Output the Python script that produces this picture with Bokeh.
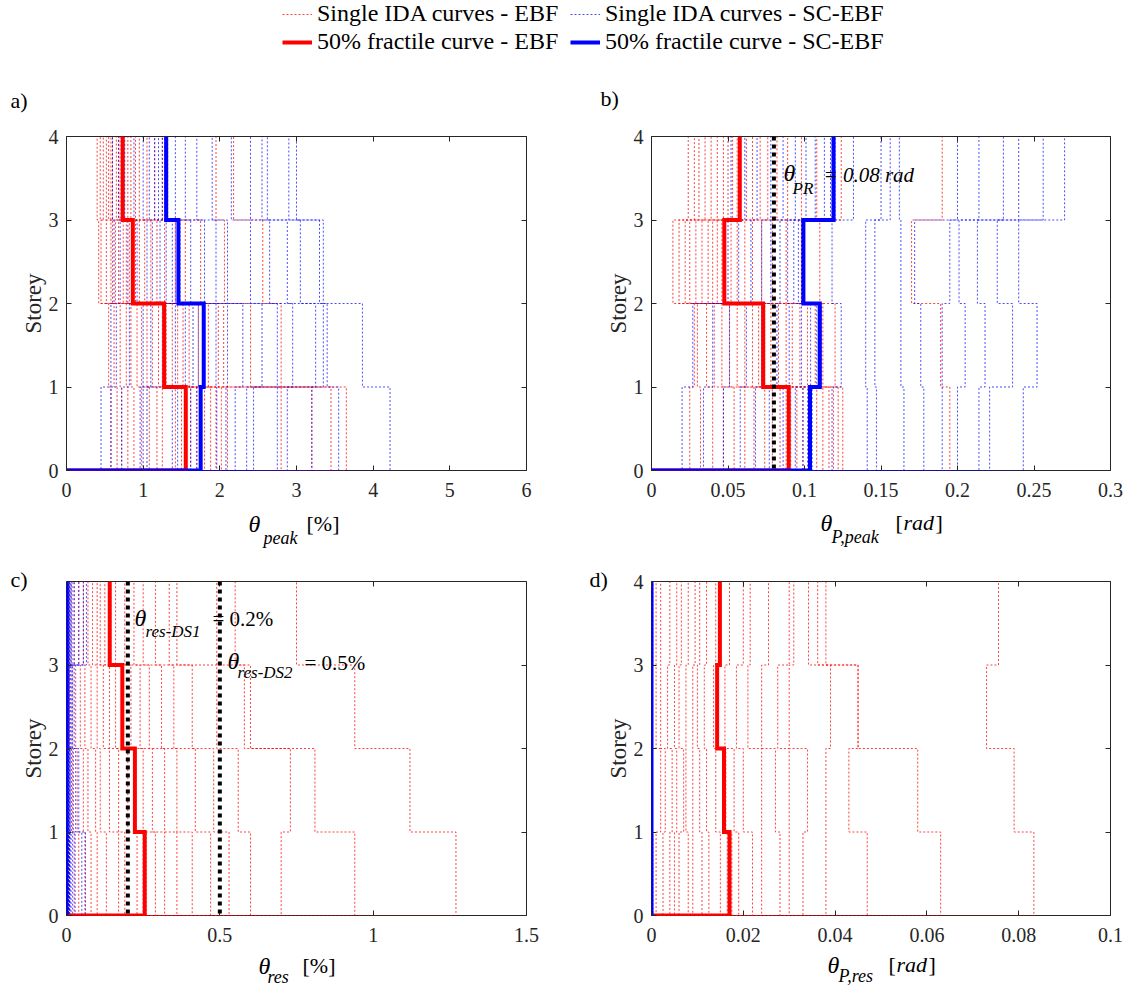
from bokeh.plotting import figure
from bokeh.layouts import column, row
from bokeh.models import (Range1d, FixedTicker, LinearAxis, Label, Span, Legend,
                          LegendItem, CustomJSTickFormatter, Title)
from bokeh.embed import file_html
from bokeh.resources import INLINE

# ---------------- data ----------------
STOREYS = [0, 1, 2, 3, 4]

# panel a: peak interstorey drift [%], one row per record: storey 1..4
A_EBF = [
    [0.58, 0.55, 0.42, 0.40], [0.66, 0.62, 0.45, 0.48], [0.72, 0.70, 0.52, 0.44],
    [0.80, 0.78, 0.58, 0.55], [0.88, 0.84, 0.64, 0.52], [0.98, 0.92, 0.60, 0.60],
    [1.08, 0.98, 0.68, 0.58], [1.18, 1.05, 0.74, 0.65], [1.25, 1.12, 0.78, 0.68],
    [1.42, 1.20, 0.82, 0.70], [1.50, 1.26, 0.85, 0.72], [1.62, 1.30, 0.90, 0.75],
    [1.70, 1.38, 0.95, 0.80], [1.80, 1.45, 1.02, 0.84], [1.88, 1.52, 1.10, 0.90],
    [1.95, 1.60, 1.18, 0.95], [2.02, 1.72, 1.28, 1.05], [2.10, 1.85, 1.42, 1.15],
    [2.80, 1.98, 1.55, 1.25], [3.20, 2.05, 1.75, 1.30], [3.45, 2.40, 2.06, 1.95],
    [3.65, 2.80, 2.56, 2.18],
]
A_SCEBF = [
    [0.45, 0.58, 0.62, 0.60], [0.58, 0.65, 0.70, 0.68], [0.72, 0.82, 0.80, 0.76],
    [0.96, 1.00, 0.92, 0.88], [1.00, 1.10, 1.05, 1.00], [1.05, 1.25, 1.12, 1.08],
    [1.38, 1.42, 1.22, 1.15], [1.45, 1.55, 1.30, 1.20], [1.62, 1.65, 1.38, 1.25],
    [1.70, 1.72, 1.42, 1.28], [1.74, 1.78, 1.45, 1.29], [1.76, 1.80, 1.48, 1.32],
    [1.96, 1.95, 1.62, 1.42], [2.08, 2.10, 1.80, 1.55], [2.20, 2.30, 1.95, 1.70],
    [2.35, 2.55, 2.10, 1.90], [2.44, 2.75, 2.40, 2.15], [2.75, 2.95, 2.65, 2.40],
    [2.88, 3.25, 2.88, 2.55], [3.20, 3.35, 3.05, 2.62], [3.55, 3.40, 3.30, 2.90],
    [4.22, 3.86, 3.35, 3.00],
]
A_EBF_50 = [1.556, 1.274, 0.865, 0.733]
A_SCEBF_50 = [1.750, 1.790, 1.460, 1.300]

# panel b: peak plastic rotation [rad]
B_EBF = [
    [0.025, 0.028, 0.014, 0.024], [0.032, 0.030, 0.018, 0.028], [0.040, 0.036, 0.022, 0.031],
    [0.047, 0.041, 0.025, 0.035], [0.054, 0.046, 0.029, 0.039], [0.061, 0.051, 0.033, 0.043],
    [0.067, 0.056, 0.037, 0.047], [0.074, 0.061, 0.040, 0.050], [0.079, 0.066, 0.043, 0.053],
    [0.084, 0.070, 0.046, 0.056], [0.088, 0.072, 0.047, 0.057], [0.091, 0.074, 0.048, 0.058],
    [0.095, 0.078, 0.052, 0.062], [0.099, 0.083, 0.056, 0.066], [0.104, 0.088, 0.061, 0.071],
    [0.108, 0.092, 0.066, 0.076], [0.112, 0.097, 0.072, 0.082], [0.116, 0.102, 0.079, 0.089],
    [0.119, 0.107, 0.088, 0.098], [0.122, 0.112, 0.098, 0.108], [0.125, 0.120, 0.110, 0.124],
    [0.195, 0.189, 0.170, 0.190],
]
B_SCEBF = [
    [0.020, 0.027, 0.050, 0.052], [0.034, 0.040, 0.057, 0.061], [0.047, 0.051, 0.065, 0.069],
    [0.058, 0.062, 0.072, 0.078], [0.068, 0.072, 0.078, 0.086], [0.077, 0.082, 0.084, 0.094],
    [0.086, 0.090, 0.089, 0.101], [0.094, 0.098, 0.093, 0.107], [0.099, 0.104, 0.096, 0.113],
    [0.102, 0.108, 0.098, 0.117], [0.103, 0.109, 0.099, 0.118], [0.105, 0.111, 0.100, 0.120],
    [0.118, 0.124, 0.118, 0.132], [0.141, 0.140, 0.140, 0.150], [0.147, 0.146, 0.146, 0.156],
    [0.165, 0.163, 0.163, 0.162], [0.178, 0.176, 0.172, 0.200], [0.190, 0.190, 0.195, 0.214],
    [0.200, 0.205, 0.201, 0.230], [0.214, 0.218, 0.213, 0.240], [0.221, 0.236, 0.226, 0.256],
    [0.243, 0.252, 0.240, 0.270],
]
B_EBF_50 = [0.0897, 0.0730, 0.0476, 0.0577]
B_SCEBF_50 = [0.1036, 0.1100, 0.0993, 0.1190]
B_THETA_PR = 0.08

# panel c: residual interstorey drift [%]
C_EBF = [
    [0.010, 0.012, 0.010, 0.008], [0.025, 0.020, 0.018, 0.015], [0.040, 0.035, 0.030, 0.025],
    [0.060, 0.055, 0.045, 0.040], [0.080, 0.070, 0.060, 0.055], [0.100, 0.095, 0.080, 0.070],
    [0.130, 0.110, 0.100, 0.085], [0.170, 0.140, 0.120, 0.100], [0.190, 0.170, 0.140, 0.110],
    [0.230, 0.200, 0.160, 0.125], [0.250, 0.220, 0.180, 0.138], [0.260, 0.226, 0.184, 0.144],
    [0.290, 0.250, 0.210, 0.160], [0.320, 0.280, 0.240, 0.190], [0.360, 0.320, 0.270, 0.220],
    [0.410, 0.360, 0.310, 0.250], [0.470, 0.420, 0.350, 0.290], [0.530, 0.480, 0.410, 0.335],
    [0.600, 0.560, 0.490, 0.360], [0.700, 0.730, 0.580, 0.490], [0.940, 0.810, 0.600, 0.550],
    [1.270, 1.120, 0.940, 0.750],
]
C_SCEBF = [
    [0.000, 0.001, 0.000, 0.001], [0.001, 0.001, 0.001, 0.002], [0.002, 0.002, 0.001, 0.002],
    [0.002, 0.001, 0.002, 0.003], [0.003, 0.002, 0.002, 0.003], [0.003, 0.003, 0.002, 0.004],
    [0.004, 0.003, 0.003, 0.004], [0.004, 0.004, 0.003, 0.005], [0.005, 0.004, 0.004, 0.005],
    [0.005, 0.005, 0.004, 0.006], [0.006, 0.005, 0.004, 0.006], [0.006, 0.006, 0.005, 0.007],
    [0.007, 0.006, 0.005, 0.008], [0.008, 0.007, 0.006, 0.009], [0.009, 0.008, 0.006, 0.010],
    [0.010, 0.009, 0.007, 0.012], [0.012, 0.010, 0.008, 0.015], [0.015, 0.012, 0.010, 0.018],
    [0.020, 0.016, 0.012, 0.025], [0.028, 0.022, 0.015, 0.040], [0.050, 0.030, 0.020, 0.055],
    [0.062, 0.040, 0.025, 0.065],
]
C_EBF_50 = [0.255, 0.223, 0.182, 0.141]
C_SCEBF_50 = [0.0, 0.0, 0.0, 0.0]
C_DS_LIMITS = [0.2, 0.5]

# panel d: residual plastic rotation [rad]
D_EBF = [
    [0.0010, 0.0020, 0.0010, 0.0010], [0.0025, 0.0030, 0.0020, 0.0020], [0.0040, 0.0045, 0.0035, 0.0040],
    [0.0050, 0.0055, 0.0050, 0.0055], [0.0060, 0.0070, 0.0060, 0.0065], [0.0080, 0.0075, 0.0075, 0.0080],
    [0.0090, 0.0090, 0.0090, 0.0095], [0.0110, 0.0105, 0.0100, 0.0105], [0.0125, 0.0120, 0.0115, 0.0120],
    [0.0150, 0.0140, 0.0135, 0.0140], [0.0165, 0.0155, 0.0142, 0.0148], [0.0175, 0.0162, 0.0145, 0.0150],
    [0.0190, 0.0180, 0.0160, 0.0170], [0.0220, 0.0200, 0.0185, 0.0200], [0.0240, 0.0240, 0.0210, 0.0215],
    [0.0280, 0.0270, 0.0240, 0.0255], [0.0300, 0.0300, 0.0275, 0.0300], [0.0330, 0.0340, 0.0300, 0.0310],
    [0.0380, 0.0380, 0.0390, 0.0342], [0.0470, 0.0430, 0.0450, 0.0362], [0.0630, 0.0580, 0.0450, 0.0380],
    [0.0833, 0.0790, 0.0730, 0.0756],
]
D_SCEBF = [
    [0.0000, 0.0001, 0.0000, 0.0001], [0.0001, 0.0001, 0.0000, 0.0001], [0.0001, 0.0000, 0.0001, 0.0002],
    [0.0002, 0.0001, 0.0001, 0.0001], [0.0002, 0.0002, 0.0001, 0.0002], [0.0003, 0.0002, 0.0002, 0.0003],
]
D_EBF_50 = [0.0170, 0.0158, 0.0143, 0.0149]
D_SCEBF_50 = [0.0, 0.0, 0.0, 0.0]

# ticks
A_XTICKS = [0, 1, 2, 3, 4, 5, 6]
A_XLABELS = ["0", "1", "2", "3", "4", "5", "6"]
B_XTICKS = [0, 0.05, 0.1, 0.15, 0.2, 0.25, 0.3]
B_XLABELS = ["0", "0.05", "0.1", "0.15", "0.2", "0.25", "0.3"]
C_XTICKS = [0, 0.5, 1, 1.5]
C_XLABELS = ["0", "0.5", "1", "1.5"]
D_XTICKS = [0, 0.02, 0.04, 0.06, 0.08, 0.1]
D_XLABELS = ["0", "0.02", "0.04", "0.06", "0.08", "0.1"]
Y_TICKS = [0, 1, 2, 3, 4]
Y_TICKS_C = [0, 1, 2, 3]

LEGEND_LABELS = ["Single IDA curves - EBF", "Single IDA curves - SC-EBF",
                 "50% fractile curve - EBF", "50% fractile curve - SC-EBF"]

# ---------------- style ----------------
FONT = "Liberation Serif"
AXC = "#262626"
RED = "#ff0000"
BLUE = "#0000ff"
DOT = "2 2"
RED_A = 0.75
BLUE_A = 0.7
W = 1130


def step_path(vals):
    xs, ys = [0.0], [STOREYS[0]]
    for i, v in enumerate(vals):
        xs += [v, v]
        ys += [STOREYS[i], STOREYS[i + 1]]
    return xs, ys


def labeller(ticks, labels):
    return CustomJSTickFormatter(args=dict(tvals=ticks, tlabs=labels),
                                 code="const i = tvals.indexOf(tick); return i >= 0 ? tlabs[i] : '';")


def style_axis(ax, ticks, labels, standoff):
    ax.ticker = FixedTicker(ticks=ticks)
    ax.formatter = labeller(ticks, labels)
    ax.major_tick_in = 5
    ax.major_tick_out = 0
    ax.minor_tick_in = 0
    ax.minor_tick_out = 0
    ax.major_tick_line_color = AXC
    ax.axis_line_color = None
    ax.major_label_text_font = FONT
    ax.major_label_text_font_size = "20px"
    ax.major_label_text_color = AXC
    ax.major_label_standoff = standoff


def mirror_axis(ticks):
    return LinearAxis(ticker=FixedTicker(ticks=ticks),
                      formatter=CustomJSTickFormatter(code="return '';"),
                      major_label_text_font_size="0px", major_label_standoff=0,
                      major_tick_in=5, major_tick_out=0, minor_tick_in=0, minor_tick_out=0,
                      axis_line_color=None, major_tick_line_color=AXC)


def panel(width, height, ml, mr, mt, mb, xmax, xticks, xlabels, yticks):
    p = figure(width=width, height=height, x_range=Range1d(0, xmax), y_range=Range1d(0, 4),
               output_backend="svg", toolbar_location=None,
               min_border_left=ml, min_border_right=mr, min_border_top=mt, min_border_bottom=mb)
    p.xgrid.visible = False
    p.ygrid.visible = False
    p.outline_line_color = AXC
    p.outline_line_width = 1
    p.outline_line_alpha = 1
    style_axis(p.below[0], xticks, xlabels, 12)
    style_axis(p.left[0], yticks, [str(t) for t in yticks], 8)
    p.left[0].axis_label = "Storey"
    p.left[0].axis_label_text_font = FONT
    p.left[0].axis_label_text_font_size = "23px"
    p.left[0].axis_label_text_font_style = "normal"
    p.left[0].axis_label_text_color = AXC
    p.left[0].axis_label_standoff = 0
    p.add_layout(mirror_axis(xticks), "above")
    p.add_layout(mirror_axis(yticks), "right")
    return p


def draw(p, ebf, scebf, ebf50, scebf50):
    for recs, col, alpha in ((ebf, RED, RED_A), (scebf, BLUE, BLUE_A)):
        paths = [step_path(r) for r in recs]
        p.multi_line(xs=[a for a, b in paths], ys=[b for a, b in paths],
                     line_color=col, line_alpha=alpha, line_width=1, line_dash=DOT)
    for vals, col in ((ebf50, RED), (scebf50, BLUE)):
        xs, ys = step_path(vals)
        p.line(xs, ys, line_color=col, line_width=4, line_join="miter")


def text_label(size, italic=False, **kw):
    return Label(text_font=FONT, text_font_size=f"{size}px",
                 text_font_style="italic" if italic else "normal",
                 text_baseline="middle", text_align="left", text_color="black", **kw)


def put(p, geom, px, py, text, size, italic=False):
    # inside-frame annotation: page pixels converted to screen offsets from the frame
    left, top, w, h = geom
    p.add_layout(text_label(size, italic, x=px - left, y=(top + h) - py,
                            x_units="screen", y_units="screen", text=text))


def strip(height, ytop):
    # a blank strip whose data space is the page pixel space (y downwards)
    s = figure(width=W, height=height, x_range=Range1d(0, W), y_range=Range1d(ytop + height, ytop),
               output_backend="svg", toolbar_location=None,
               x_axis_location=None, y_axis_location=None,
               min_border_left=0, min_border_right=0, min_border_top=0, min_border_bottom=0)
    s.grid.visible = False
    s.outline_line_color = None
    return s


def sput(s, px, py, text, size, italic=False):
    s.add_layout(text_label(size, italic, x=px, y=py, text=text))


def letter(p, text, offset, standoff):
    p.add_layout(Title(text=text, align="left", offset=offset, standoff=standoff,
                       text_font=FONT, text_font_size="22px", text_font_style="normal",
                       text_color="black"), "above")


# frame geometry on the page (left, top, width, height) in px
GA = (66, 136, 460, 334)
GB = (651, 136, 459, 334)
GC = (66, 581, 460, 334)
GD = (651, 581, 459, 334)

pa = panel(590, 390, 66, 64, 18, 38, 6, A_XTICKS, A_XLABELS, Y_TICKS)
pb = panel(540, 390, 61, 20, 18, 38, 0.3, B_XTICKS, B_XLABELS, Y_TICKS)
pc = panel(590, 401, 66, 64, 31, 36, 1.5, C_XTICKS, C_XLABELS, Y_TICKS_C)
pd = panel(540, 401, 61, 20, 31, 36, 0.1, D_XTICKS, D_XLABELS, Y_TICKS)

draw(pa, A_EBF, A_SCEBF, A_EBF_50, A_SCEBF_50)
draw(pb, B_EBF, B_SCEBF, B_EBF_50, B_SCEBF_50)
draw(pc, C_EBF, C_SCEBF, C_EBF_50, C_SCEBF_50)
draw(pd, D_EBF, D_SCEBF, D_EBF_50, D_SCEBF_50)

pb.add_layout(Span(location=B_THETA_PR, dimension="height", line_color="black",
                   line_width=4, line_dash="4 4"))
for loc in C_DS_LIMITS:
    pc.add_layout(Span(location=loc, dimension="height", line_color="black",
                       line_width=4, line_dash="4 4"))

# threshold annotations (inside the frames)
put(pb, GB, 783, 172, "θ", 24, True)
put(pb, GB, 792, 188, "PR", 17, True)
put(pb, GB, 823, 174, "= 0.08 rad", 21, True)

put(pc, GC, 134, 617, "θ", 24, True)
put(pc, GC, 145, 631, "res-DS1", 17, True)
put(pc, GC, 212, 618, "= 0.2%", 21)
put(pc, GC, 227, 660, "θ", 24, True)
put(pc, GC, 237, 672, "res-DS2", 17, True)
put(pc, GC, 304, 662, "= 0.5%", 21)

# panel letters for the lower row as titles
letter(pc, "c)", 10 - 66, -20)
letter(pd, "d)", 589 - 651, -20)

# ---------------- legend strip ----------------
lf = figure(width=W, height=70, x_range=Range1d(-2, -1), y_range=Range1d(-2, -1),
            output_backend="svg", toolbar_location=None,
            x_axis_location=None, y_axis_location=None,
            min_border_left=0, min_border_right=0, min_border_top=0, min_border_bottom=0)
lf.grid.visible = False
lf.outline_line_color = None
sx, sy = step_path(A_EBF_50)
r1 = lf.line(sx, sy, line_color=RED, line_alpha=RED_A, line_width=1, line_dash=DOT)
r2 = lf.line(sx, sy, line_color=BLUE, line_alpha=BLUE_A, line_width=1, line_dash=DOT)
r3 = lf.line(sx, sy, line_color=RED, line_width=4)
r4 = lf.line(sx, sy, line_color=BLUE, line_width=4)
legend = Legend(items=[LegendItem(label=LEGEND_LABELS[0], renderers=[r1]),
                       LegendItem(label=LEGEND_LABELS[1], renderers=[r2]),
                       LegendItem(label=LEGEND_LABELS[2], renderers=[r3]),
                       LegendItem(label=LEGEND_LABELS[3], renderers=[r4])],
                location=(282, 15), orientation="horizontal", ncols=2,
                label_text_font=FONT, label_text_font_size="24px", label_text_color="black",
                glyph_width=30, glyph_height=20, label_standoff=5, label_width=252,
                padding=0, margin=0, spacing=1,
                border_line_color=None, background_fill_alpha=0)
lf.add_layout(legend)

# letters strip above the upper panels
s_top = strip(48, 70)
sput(s_top, 10, 100, "a)", 22)
sput(s_top, 600, 98, "b)", 22)

# x-axis titles of the upper panels
s_mid = strip(42, 508)
sput(s_mid, 248, 523, "θ", 24, True)
sput(s_mid, 263, 537, "peak", 18, True)
sput(s_mid, 306, 523, "[%]", 22)
sput(s_mid, 820, 522, "θ", 24, True)
sput(s_mid, 831, 536, "P,peak", 18, True)
sput(s_mid, 895, 522, "[", 22)
sput(s_mid, 903, 522, "rad", 22, True)
sput(s_mid, 935, 522, "]", 22)

# x-axis titles of the lower panels
s_bot = strip(35, 951)
sput(s_bot, 258, 965, "θ", 24, True)
sput(s_bot, 267, 976, "res", 18, True)
sput(s_bot, 302, 965, "[%]", 22)
sput(s_bot, 827, 964, "θ", 24, True)
sput(s_bot, 838, 975, "P,res", 18, True)
sput(s_bot, 888, 964, "[", 22)
sput(s_bot, 896, 964, "rad", 22, True)
sput(s_bot, 928, 964, "]", 22)

layout = column(lf, s_top, row(pa, pb), s_mid, row(pc, pd), s_bot)
open("out.html", "w").write(file_html(layout, INLINE))
